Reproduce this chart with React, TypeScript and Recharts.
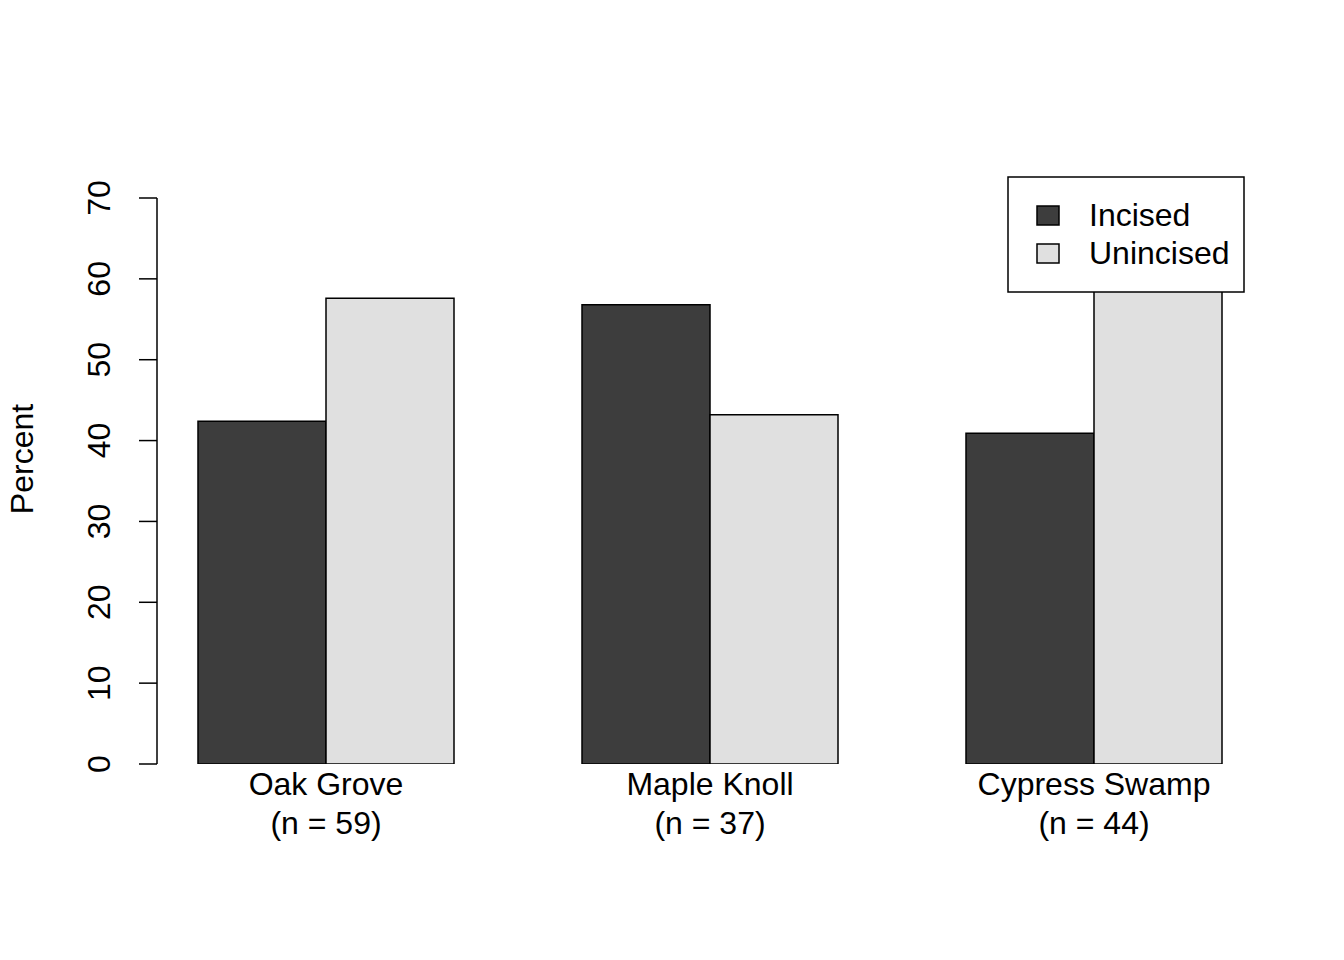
import React from 'react';
import { BarChart, Bar, XAxis, YAxis, Legend, Label } from 'recharts';

const sites = ['Oak Grove', 'Maple Knoll', 'Cypress Swamp'];
const counts = [59, 37, 44];
const incised = [42.4, 56.8, 40.9];
const unincised = [57.6, 43.2, 59.1];
const yTicks = [0, 10, 20, 30, 40, 50, 60, 70];

const FONT = '"Liberation Sans", Arial, Helvetica, sans-serif';
const FS = 32;
const DARK = '#3d3d3d';
const LIGHT = '#e0e0e0';

const data = sites.map((site, i) => ({
  site,
  incised: incised[i],
  unincised: unincised[i],
}));

function XTick(props: any) {
  const { x, y, payload, index } = props;
  return (
    <g>
      <text x={x} y={y + 31} textAnchor="middle" fontSize={FS} fontFamily={FONT} fill="#000">
        {payload.value}
      </text>
      <text x={x} y={y + 70} textAnchor="middle" fontSize={FS} fontFamily={FONT} fill="#000">
        {`(n = ${counts[index]})`}
      </text>
    </g>
  );
}

function YTick(props: any) {
  const { x, y, payload } = props;
  return (
    <text
      x={x}
      y={y}
      textAnchor="middle"
      fontSize={FS}
      fontFamily={FONT}
      fill="#000"
      transform={`rotate(-90, ${x}, ${y})`}
    >
      {payload.value}
    </text>
  );
}

function renderLegend(props: any) {
  const items = props.payload || [];
  return (
    <svg width={238} height={117} style={{ display: 'block' }}>
      <rect x={1} y={1} width={236} height={115} fill="#fff" stroke="#000" strokeWidth={1.5} />
      {items.map((item: any, i: number) => (
        <g key={item.value}>
          <rect
            x={30}
            y={30 + i * 38}
            width={22}
            height={19}
            fill={item.color}
            stroke="#000"
            strokeWidth={1.5}
          />
          <text x={82} y={50 + i * 38} fontSize={FS} fontFamily={FONT} fill="#000">
            {item.value}
          </text>
        </g>
      ))}
    </svg>
  );
}

export default function App() {
  return (
    <div style={{ position: 'absolute', left: 0, top: 0, width: 1344, height: 960, background: '#fff' }}>
      <BarChart
        width={1344}
        height={960}
        data={data}
        margin={{ top: 198, right: 58, left: 0, bottom: 96 }}
        barCategoryGap={64}
        barGap={0}
      >
        <XAxis
          dataKey="site"
          axisLine={false}
          tickLine={false}
          tickSize={0}
          tickMargin={0}
          height={100}
          padding={{ left: -23, right: 0 }}
          interval={0}
          tick={<XTick />}
        />
        <YAxis
          width={157}
          domain={[0, 70]}
          ticks={yTicks}
          allowDataOverflow
          axisLine={{ stroke: '#000', strokeWidth: 1.5 }}
          tickLine={{ stroke: '#000', strokeWidth: 1.5 }}
          tickSize={18}
          tickMargin={29}
          tick={<YTick />}
        >
          <Label
            content={(p: any) => {
              const vb = p.viewBox || { y: 198, height: 566 };
              const cx = 33;
              const cy = vb.y + vb.height / 2 - 22;
              return (
                <text
                  x={cx}
                  y={cy}
                  textAnchor="middle"
                  fontSize={FS}
                  fontFamily={FONT}
                  fill="#000"
                  transform={`rotate(-90, ${cx}, ${cy})`}
                >
                  Percent
                </text>
              );
            }}
          />
        </YAxis>
        <Legend
          layout="horizontal"
          verticalAlign="middle"
          align="center"
          content={renderLegend}
          wrapperStyle={{ position: 'absolute', left: 1007, top: 176, width: 238, height: 117 }}
        />
        <Bar dataKey="incised" name="Incised" fill={DARK} stroke="#000" strokeWidth={1.5} isAnimationActive={false} />
        <Bar dataKey="unincised" name="Unincised" fill={LIGHT} stroke="#000" strokeWidth={1.5} isAnimationActive={false} />
      </BarChart>
    </div>
  );
}
